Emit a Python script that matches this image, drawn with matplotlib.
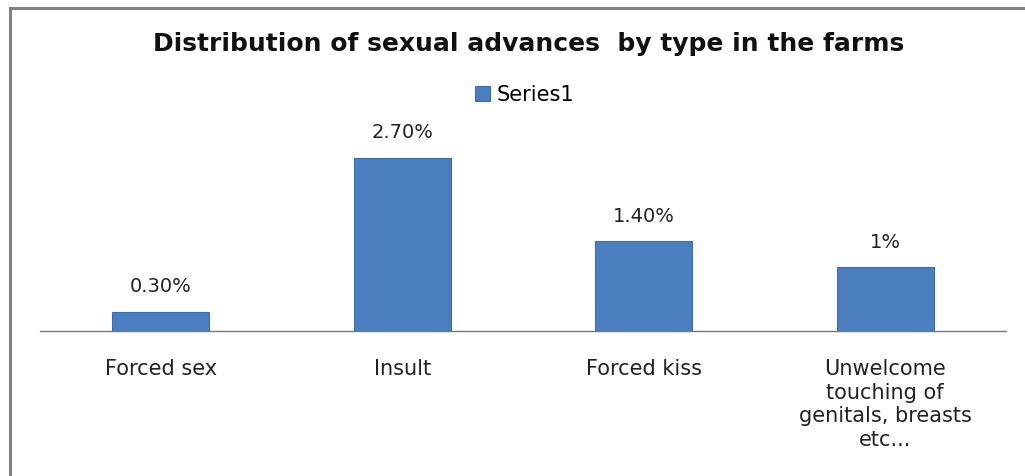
import matplotlib
matplotlib.use("Agg")
import matplotlib.pyplot as plt
from matplotlib.lines import Line2D

categories = ["Forced sex", "Insult", "Forced kiss",
              "Unwelcome\ntouching of\ngenitals, breasts\netc..."]
values = [0.3, 2.7, 1.4, 1.0]
value_labels = ["0.30%", "2.70%", "1.40%", "1%"]
series_name = "Series1"
title = "Distribution of sexual advances  by type in the farms"

W, H = 1025, 476
fig = plt.figure(figsize=(W / 100, H / 100), dpi=100)
fig.patch.set_facecolor("white")

# frame lines (left & top)
fig.add_artist(Line2D([10 / W, 10 / W], [0, 1 - 8 / H], color="#808080", lw=2.2,
                      transform=fig.transFigure))
fig.add_artist(Line2D([10 / W, 1], [1 - 8 / H, 1 - 8 / H], color="#808080", lw=2.2,
                      transform=fig.transFigure))

ax = fig.add_axes([40 / W, (H - 331) / H, 966 / W, 231 / H])
bar_color = "#4a7ebf"
x = range(len(categories))
bars = ax.bar(x, values, width=0.4, color=bar_color, edgecolor="#3f6fa8", linewidth=0.8)
ax.set_xlim(-0.5, len(categories) - 0.5)
ax.set_ylim(0, 3.6)

for xi, v, lab in zip(x, values, value_labels):
    ax.annotate(lab, (xi, v), xytext=(0, 11), textcoords="offset points",
                ha="center", va="bottom", fontsize=14, family="DejaVu Sans",
                color="#222222")

for s in ["top", "right", "left"]:
    ax.spines[s].set_visible(False)
ax.spines["bottom"].set_color("#777777")
ax.spines["bottom"].set_linewidth(1.0)
ax.set_yticks([])
ax.set_xticks(list(x))
ax.set_xticklabels(categories, fontsize=15, family="DejaVu Sans", color="#222222",
                   linespacing=1.24, va="top")
ax.tick_params(axis="x", length=0, pad=20)

fig.text(529 / W, 1 - 44 / H, title, ha="center", va="center", fontsize=18,
         fontweight="bold", family="DejaVu Sans", color="#111111")

leg = ax.legend([bars[0]], [series_name], loc="center", bbox_to_anchor=(525 / W, 1 - 95 / H),
                bbox_transform=fig.transFigure, frameon=False, handlelength=0.7,
                handleheight=0.7, handletextpad=0.35,
                prop={"family": "DejaVu Sans", "size": 15})

fig.savefig("out.png", dpi=100, facecolor="white")
